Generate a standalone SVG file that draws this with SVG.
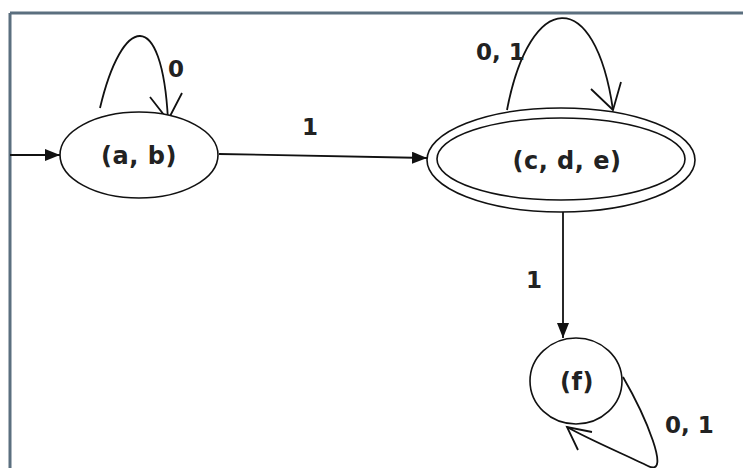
<svg xmlns="http://www.w3.org/2000/svg" width="743" height="468" viewBox="0 0 743 468">
<defs>
<style>
.st{fill:#fff;stroke:#111;stroke-width:1.6}
.ln{fill:none;stroke:#111;stroke-width:1.8}
.lbl{font-family:"DejaVu Sans",sans-serif;font-weight:bold;font-size:24px;fill:#222;text-anchor:middle;letter-spacing:0.5px}
.el{font-family:"DejaVu Sans",sans-serif;font-weight:bold;font-size:23px;fill:#222}
</style>
<marker id="fa" viewBox="0 0 15 12" refX="15" refY="6" markerWidth="15" markerHeight="12" markerUnits="userSpaceOnUse" orient="auto">
<path d="M0,0 L15,6 L0,12 Z" fill="#111"/>
</marker>
</defs>
<rect width="743" height="468" fill="#fff"/>
<g id="frame" fill="none" stroke="#5b6f7f" stroke-width="3">
<line x1="10" y1="13" x2="743" y2="13"/>
<line x1="10" y1="13" x2="10" y2="468"/>
</g>
<g id="connectors">
<line class="ln" x1="10" y1="155" x2="60" y2="155" marker-end="url(#fa)"/>
<line class="ln" x1="219" y1="154" x2="427" y2="158" marker-end="url(#fa)"/>
<line class="ln" x1="563" y1="212" x2="563" y2="338" marker-end="url(#fa)"/>
<path class="ln" d="M100,108 C122,15 162,5 168,120"/>
<path class="ln" d="M150,97 L168,120 L182,93"/>
<path class="ln" d="M507,110 C530,-10 595,-15 613,110"/>
<path class="ln" d="M591,89 L613,110 L621,82"/>
<path class="ln" d="M623,377 C645,415 672,478 648,466 C628,456 590,440 567,427"/>
<path class="ln" d="M578,450 L567,427 L592,432"/>
</g>
<g id="node-ab">
<ellipse class="st" cx="139" cy="155" rx="79" ry="43"/>
<text class="lbl" x="139" y="164">(a, b)</text>
</g>
<g id="node-cde">
<ellipse class="st" cx="561" cy="160" rx="134" ry="52"/>
<ellipse class="st" cx="561" cy="159" rx="124" ry="41"/>
<text class="lbl" x="567" y="169">(c, d, e)</text>
</g>
<g id="node-f">
<ellipse class="st" cx="576" cy="381" rx="46" ry="43"/>
<text class="lbl" x="577" y="390">(f)</text>
</g>
<g id="labels">
<text class="el" x="168" y="77">0</text>
<text class="el" x="302" y="135">1</text>
<text class="el" x="476" y="60">0, 1</text>
<text class="el" x="526" y="288">1</text>
<text class="el" x="665" y="433">0, 1</text>
</g>
</svg>
